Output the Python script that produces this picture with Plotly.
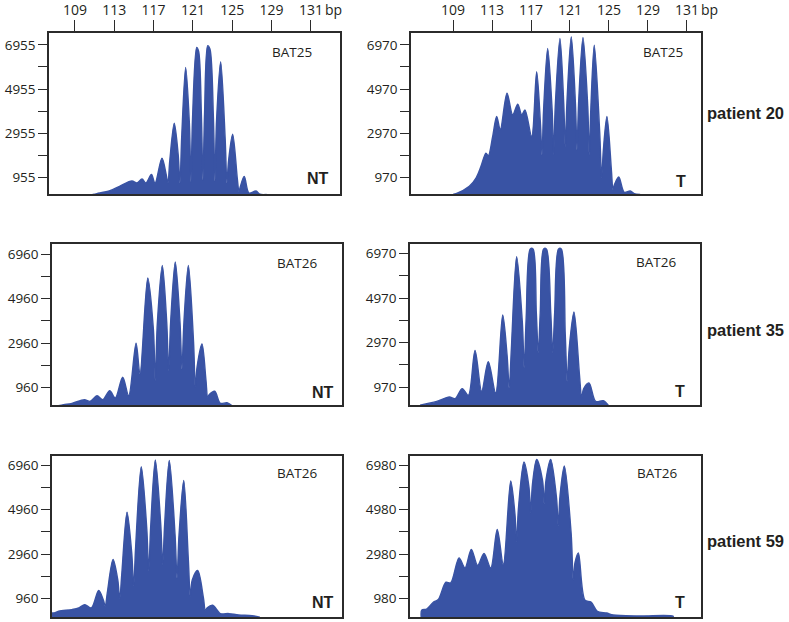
import plotly.graph_objects as go

# ---------------- data ----------------
tick_bp = [109, 113, 117, 121, 125, 129, 133]
tick_bp_labels = ["109", "113", "117", "121", "125", "129", "131"]

marker_names = ["BAT25", "BAT25", "BAT26", "BAT26", "BAT26", "BAT26"]
tissue_names = ["NT", "T", "NT", "T", "NT", "T"]
patients = ["patient 20", "patient 35", "patient 59"]

ytick_p20_nt = [955, 2955, 4955, 6955]
ytick_p20_t = [970, 2970, 4970, 6970]
ytick_p35_nt = [960, 2960, 4960, 6960]
ytick_p35_t = [970, 2970, 4970, 6970]
ytick_p59_nt = [960, 2960, 4960, 6960]
ytick_p59_t = [980, 2980, 4980, 6980]

p20_nt_bp = [110.8, 111.24, 112.56, 113.58, 114.80, 115.31, 115.82, 116.22, 116.78, 117.14,
             117.85, 118.28, 118.46, 118.64, 119.10, 119.50, 119.68, 119.86, 120.26,
             120.64, 120.80, 120.96, 121.38, 121.58, 121.86, 122.02, 122.18, 122.50, 122.73,
             123.08, 123.24, 123.40, 123.82, 124.28, 124.46, 124.62, 125.04,
             125.52, 125.68, 125.82, 126.22, 126.70, 127.41, 127.82, 128.5]
p20_nt_rfu = [200, 240, 370, 581, 806, 716, 896, 716, 1099, 703,
              1842, 1100, 716, 1700, 3417, 2000, 716, 2800, 5937,
              3400, 762, 3600, 6837, 6657, 3800, 851, 3800, 6913, 6760,
              3700, 806, 3500, 6193, 2700, 716, 1700, 2922,
              900, 330, 550, 1018, 266, 356, 210, 200]

p20_t_bp = [109.0, 109.31, 110.67, 111.36, 111.87, 112.38, 112.62, 113.07, 113.48, 113.85,
            114.54, 115.12, 115.64, 116.05, 116.38, 117.07, 117.58,
            117.97, 118.13, 118.29, 118.71, 119.17, 119.33, 119.49, 119.97,
            120.36, 120.52, 120.68, 121.13, 121.56, 121.72, 121.88, 122.33,
            122.82, 122.98, 123.14, 123.49, 124.05, 124.25, 124.42, 124.79,
            125.25, 125.41, 125.55, 126.00, 126.57, 127.18, 127.59, 128.2]
p20_t_rfu = [220, 250, 583, 956, 1483, 2082, 1960, 2833, 3733, 3130,
             4782, 3805, 4287, 3805, 4030, 2833, 5758,
             3400, 2005, 4000, 6807, 4000, 2005, 4200, 7257,
             4300, 2383, 4300, 7333, 4300, 2230, 4300, 7302,
             4200, 2005, 4100, 6955, 3000, 956, 2200, 3733,
             1300, 430, 650, 1002, 313, 372, 250, 220]

p35_nt_bp = [107.0, 107.55, 108.39, 109.65, 110.26, 110.94, 111.52, 112.23, 112.80, 113.55,
             114.16, 114.91, 115.31, 116.10, 116.67, 116.87, 117.07, 117.58,
             118.03, 118.23, 118.43, 118.90, 119.38, 119.58, 119.78, 120.23,
             120.76, 120.94, 121.12, 121.62, 122.02, 122.20, 122.36, 122.91,
             123.48, 124.16, 124.67]
p35_nt_rfu = [150, 200, 258, 420, 348, 600, 420, 825, 496, 1428,
              600, 2958, 1577, 5883, 3600, 1275, 3800, 6450,
              3900, 1725, 3900, 6603, 3900, 1802, 3900, 6450,
              3000, 978, 1900, 2927, 1300, 528, 650, 798,
              258, 285, 150]

p35_t_bp = [105.72, 107.43, 108.72, 109.31, 110.05, 110.67, 111.36, 112.04, 112.72, 113.48,
            114.20, 114.65, 114.87, 115.09, 115.63, 116.21, 116.41, 116.61, 117.03, 117.31,
            117.65, 117.85, 118.05, 118.40, 118.68, 119.13, 119.33, 119.53, 119.93, 120.21,
            120.62, 120.82, 121.02, 121.51, 122.08, 122.30, 122.50, 123.05,
            123.74, 124.52, 125.03]
p35_t_rfu = [170, 340, 538, 462, 912, 610, 2622, 790, 2113, 718,
             4210, 2400, 943, 2700, 6820, 3900, 1843, 4100, 7167, 7167,
             4300, 2518, 4300, 7167, 7167, 4300, 2518, 4300, 7167, 7167,
             3300, 1240, 2700, 4345, 1500, 493, 900, 1168,
             340, 372, 170]

p59_nt_bp = [106.36, 106.53, 107.04, 108.39, 109.08, 109.69, 110.36, 111.11,
             111.58, 111.78, 111.98, 112.57, 113.05, 113.25, 113.45, 113.99,
             114.47, 114.67, 114.87, 115.44, 116.00, 116.20, 116.40, 116.87,
             117.42, 117.62, 117.82, 118.29, 118.88, 119.08, 119.28, 119.76,
             120.23, 120.43, 120.63, 121.18, 121.76, 121.96, 122.15, 122.71,
             123.48, 124.34, 125.35, 126.71, 127.5]
p59_nt_rfu = [312, 312, 389, 465, 537, 690, 537, 1320,
              900, 614, 1200, 2715, 1800, 942, 2000, 4844,
              3000, 1514, 3300, 6882, 4100, 2189, 4200, 7184,
              4300, 2490, 4300, 7170, 3800, 1887, 3800, 6270,
              2700, 1064, 1800, 2220, 1000, 434, 550, 659,
              285, 285, 222, 195, 120]

p59_t_bp = [105.85, 105.89, 106.40, 107.08, 107.59, 108.38, 108.86, 109.72, 110.33, 110.98,
            111.63, 112.28, 112.97, 113.64, 114.26, 115.02, 115.45, 115.63, 115.81, 116.38,
            116.89, 117.07, 117.25, 117.68, 118.28, 118.46, 118.64, 119.12,
            119.72, 119.90, 120.08, 120.52, 121.22, 121.44, 121.62, 121.96,
            122.64, 123.26, 123.90, 124.86, 125.54, 128.28, 131.66, 131.7]
p59_t_rfu = [100, 453, 512, 814, 935, 1714, 1682, 2807, 2357, 3185,
             2465, 3005, 2357, 4085, 2510, 6259, 4800, 3514, 5000, 7114,
             6000, 4832, 6100, 7235, 6300, 5237, 6300, 7235,
             5500, 4234, 5600, 6934, 3900, 1835, 2600, 3032,
             904, 827, 409, 332, 242, 200, 190, 100]

# ---------------- layout / styling ----------------
W, H = 789, 622
BLUE = "#3953a4"
FRAME = "#2b2b2b"
TXT = "#231f20"

series = [
    (p20_nt_bp, p20_nt_rfu, ytick_p20_nt),
    (p20_t_bp, p20_t_rfu, ytick_p20_t),
    (p35_nt_bp, p35_nt_rfu, ytick_p35_nt),
    (p35_t_bp, p35_t_rfu, ytick_p35_t),
    (p59_nt_bp, p59_nt_rfu, ytick_p59_nt),
    (p59_t_bp, p59_t_rfu, ytick_p59_t),
]

# pixel boxes (left, right, top, bottom) and axis ranges
boxes = [(49, 340, 33, 194), (411, 701, 33, 194),
         (52, 342, 244, 405), (410, 700, 244, 405),
         (52, 342, 456, 617), (410, 701, 456, 617)]
xranges = [[106.36, 135.96], [104.69, 134.44],
           [106.36, 135.86], [104.69, 134.44],
           [106.36, 135.86], [104.69, 134.54]]
yranges = [[222, 7486], [237, 7501], [182, 7410], [178, 7389], [132, 7365], [152, 7385]]
marker_pos = [(0.835, 0.882), (0.869, 0.882), (0.845, 0.882),
              (0.848, 0.888), (0.845, 0.894), (0.848, 0.894)]
tissue_pos = [(0.924, 0.099), (0.931, 0.075), (0.934, 0.075),
              (0.931, 0.081), (0.934, 0.087), (0.928, 0.087)]

fig = go.Figure()
annotations = []
FONT = "Open Sans"

for i, (bp, rfu, yt) in enumerate(series):
    n = i + 1
    xa = "x" if n == 1 else f"x{n}"
    ya = "y" if n == 1 else f"y{n}"
    fig.add_trace(go.Scatter(
        x=bp, y=rfu, xaxis=xa, yaxis=ya, mode="lines",
        line=dict(color=BLUE, width=1.4, shape="spline", smoothing=0.9),
        fill="tozeroy", fillcolor=BLUE, hoverinfo="skip", showlegend=False,
        cliponaxis=True))

    l, r, t, b = boxes[i]
    top_row = i < 2
    xaxis = dict(
        domain=[l / W, r / W], range=xranges[i], anchor=ya,
        showline=True, mirror=True, linecolor=FRAME, linewidth=1.5,
        showgrid=False, zeroline=False, fixedrange=True, automargin=False,
    )
    if top_row:
        xaxis.update(side="top", tickmode="array", tickvals=tick_bp, ticktext=tick_bp_labels,
                     ticks="outside", ticklen=11, tickwidth=1.3, tickcolor=FRAME,
                     tickfont=dict(family=FONT, size=14, color=TXT))
    else:
        xaxis.update(showticklabels=False, ticks="")
    minor_vals = [v + 1000 for v in yt[:-1]]
    yaxis = dict(
        domain=[1 - b / H, 1 - t / H], range=yranges[i], anchor=xa,
        showline=True, mirror=True, linecolor=FRAME, linewidth=1.5,
        showgrid=False, zeroline=False, fixedrange=True, automargin=False,
        tickmode="array", tickvals=yt, ticktext=[str(v) for v in yt],
        ticks="outside", ticklen=9, tickwidth=1.3, tickcolor=FRAME,
        tickfont=dict(family=FONT, size=13.5, color=TXT),
        minor=dict(tickmode="array", tickvals=minor_vals, ticks="outside",
                   ticklen=9, tickwidth=1.3, tickcolor=FRAME, showgrid=False),
    )
    fig.layout[f"xaxis{'' if n == 1 else n}"] = xaxis
    fig.layout[f"yaxis{'' if n == 1 else n}"] = yaxis

    mx, my = marker_pos[i]
    annotations.append(dict(text=marker_names[i], xref=f"{xa} domain", yref=f"{ya} domain",
                            x=mx, y=my, showarrow=False, xanchor="center", yanchor="middle",
                            font=dict(family=FONT, size=13.5, color=TXT)))
    tx, ty = tissue_pos[i]
    annotations.append(dict(text=f"<b>{tissue_names[i]}</b>", xref=f"{xa} domain", yref=f"{ya} domain",
                            x=tx, y=ty, showarrow=False, xanchor="center", yanchor="middle",
                            font=dict(family="Liberation Sans", size=16, color=TXT)))
    if top_row:
        annotations.append(dict(text="bp", xref=xa, yref="paper", x=tick_bp[-1], y=1 - 10 / H,
                                xshift=12, showarrow=False, xanchor="left", yanchor="middle",
                                font=dict(family=FONT, size=14, color=TXT)))

patient_y = [113, 330, 541]
for name, py in zip(patients, patient_y):
    annotations.append(dict(text=f"<b>{name}</b>", xref="paper", yref="paper",
                            x=745 / W, y=1 - py / H, showarrow=False,
                            xanchor="center", yanchor="middle",
                            font=dict(family="Liberation Sans", size=16.5, color=TXT)))

fig.update_layout(width=W, height=H, margin=dict(l=0, r=0, t=0, b=0),
                  paper_bgcolor="white", plot_bgcolor="white",
                  annotations=annotations, showlegend=False)

fig.write_html("out.html", config={"displayModeBar": False},
               post_script="document.body.style.margin='0';document.body.style.padding='0';")
